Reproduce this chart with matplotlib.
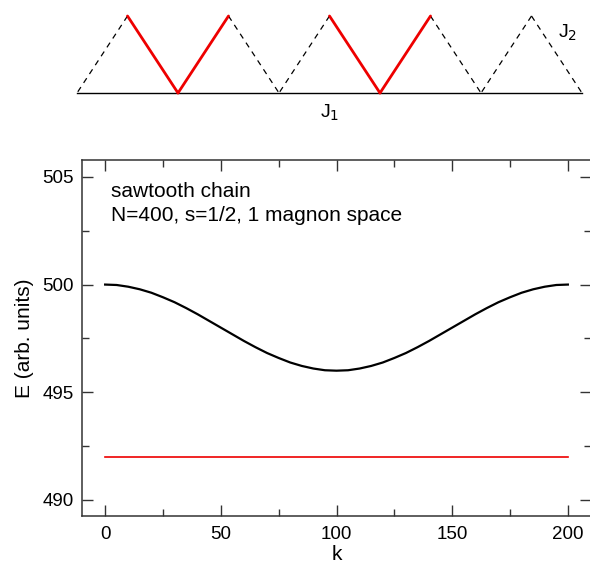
import numpy as np
import matplotlib
matplotlib.use("Agg")
import matplotlib.pyplot as plt
from matplotlib.ticker import MultipleLocator

plt.rcParams["font.family"] = ["Liberation Sans", "DejaVu Sans"]

# ── data ──
k = [0, 5, 10, 15, 20, 25, 30, 35, 40, 45, 50, 55, 60, 65, 70, 75, 80, 85,
     90, 95, 100, 105, 110, 115, 120, 125, 130, 135, 140, 145, 150, 155,
     160, 165, 170, 175, 180, 185, 190, 195, 200]
E_band = [500.00, 499.98, 499.90, 499.78, 499.62, 499.41, 499.18, 498.91,
          498.62, 498.31, 498.00, 497.69, 497.38, 497.09, 496.82, 496.59,
          496.38, 496.22, 496.10, 496.02, 496.00, 496.02, 496.10, 496.22,
          496.38, 496.59, 496.82, 497.09, 497.38, 497.69, 498.00, 498.31,
          498.62, 498.91, 499.18, 499.41, 499.62, 499.78, 499.90, 499.98,
          500.00]
k_flat = [0, 200]
E_flat = [492.0, 492.0]

# sawtooth schematic: base sites and apex sites (lattice units)
base_x = [0, 1, 2, 3, 4, 5]
apex_x = [0.5, 1.5, 2.5, 3.5, 4.5]
red_valleys = [1, 3]   # base sites whose V is highlighted

W, H = 590, 568
fig = plt.figure(figsize=(W / 100, H / 100), dpi=100)

# ── schematic ──
sk = fig.add_axes([77 / W, 1 - 93 / H, 505 / W, 77 / H])
sk.set_xlim(0, 5)
sk.set_ylim(0, 1)
sk.axis("off")
sk.plot([base_x[0], base_x[-1]], [0, 0], color="black", lw=1.0, clip_on=False)
for i, ax_ in enumerate(apex_x):
    for bx in (base_x[i], base_x[i + 1]):
        if bx in red_valleys:
            sk.plot([ax_, bx], [1, 0], color="#ee0000", lw=2.0,
                    solid_capstyle="round", clip_on=False, zorder=3)
        else:
            sk.plot([ax_, bx], [1, 0], color="black", lw=0.9,
                    dashes=(4.5, 4), clip_on=False)
sk.text(4.86, 0.78, "J$_2$", fontsize=14, ha="center", va="center")
sk.text(2.5, -0.26, "J$_1$", fontsize=14, ha="center", va="center")

# ── main plot ──
ax = fig.add_axes([82 / W, 1 - 516 / H, 509 / W, (516 - 159.7) / H])
ax.plot(k, E_band, color="black", lw=1.6)
ax.plot(k_flat, E_flat, color="#ee0000", lw=1.2)

ax.set_xlim(-10, 210)
ax.set_ylim(489.25, 505.8)
ax.xaxis.set_major_locator(MultipleLocator(50))
ax.xaxis.set_minor_locator(MultipleLocator(25))
ax.yaxis.set_major_locator(MultipleLocator(5))
ax.yaxis.set_minor_locator(MultipleLocator(2.5))
ax.tick_params(which="both", direction="in", top=True, right=True,
               width=1.0, colors="#333333", labelcolor="black")
ax.tick_params(which="major", length=8, labelsize=13.5)
ax.tick_params(which="minor", length=5)
ax.tick_params(axis="y", pad=6)
ax.tick_params(axis="x", pad=7)
for s in ax.spines.values():
    s.set_linewidth(1.1)
    s.set_color("#333333")

ax.set_xlabel("k", fontsize=15, labelpad=2)
ax.set_ylabel("E (arb. units)", fontsize=15, labelpad=6)

ax.text(0.056, 0.896, "sawtooth chain", transform=ax.transAxes,
        fontsize=15, va="baseline")
ax.text(0.056, 0.829, "N=400, s=1/2, 1 magnon space", transform=ax.transAxes,
        fontsize=15, va="baseline")

fig.savefig("out.png", dpi=100)
